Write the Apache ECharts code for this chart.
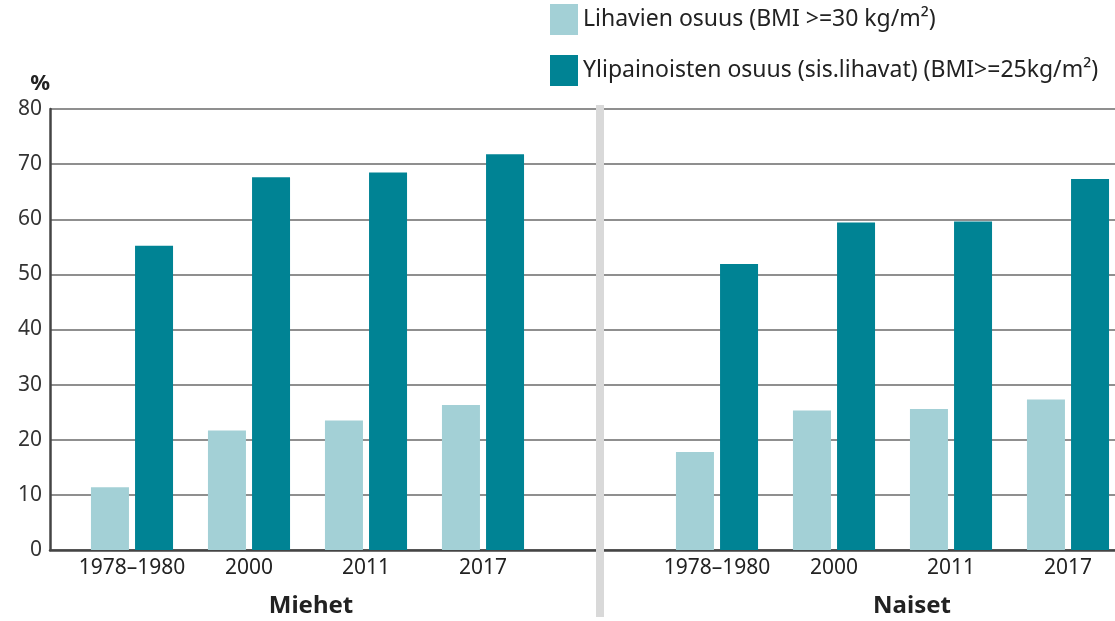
<!DOCTYPE html>
<html>
<head>
<meta charset="utf-8">
<script src="https://cdn.jsdelivr.net/npm/echarts@6/dist/echarts.min.js"></script>
<style>
  html, body { margin: 0; padding: 0; background: #fff; }
  #chart { width: 1115px; height: 621px; }
</style>
</head>
<body>
<div id="chart"></div>
<script>
// categories: Miehet (4), empty gap, Naiset (4)
var categories = ['1978–1980', '2000', '2011', '2017', '', '1978–1980', '2000', '2011', '2017'];
var lihavat = [11.4, 21.7, 23.5, 26.3, null, 17.8, 25.3, 25.6, 27.3];
var ylipainoiset = [55.2, 67.6, 68.5, 71.8, null, 51.9, 59.4, 59.6, 67.3];
var yTicks = [0, 80, 10];
var groupNames = ['Miehet', 'Naiset'];
var seriesNames = ['Lihavien osuus (BMI >=30 kg/m²)', 'Ylipainoisten osuus (sis.lihavat) (BMI>=25kg/m²)'];

var font = '"Noto Sans", "Open Sans", sans-serif';
var chart = echarts.init(document.getElementById('chart'));

var option = {
    animation: false,
    textStyle: { fontFamily: font },
    legend: {
        orient: 'vertical',
        left: 550,
        top: 4,
        padding: 0,
        itemWidth: 28,
        itemHeight: 31,
        itemGap: 20,
        icon: 'rect',
        textStyle: { fontSize: 23, color: '#222', fontFamily: font },
        data: seriesNames
    },
    grid: [
        // frame grid: y axis and grid lines
        { left: 50, right: 0, top: 109, bottom: 71 },
        // bar grid: category points 117px apart, first at x=132
        { left: 132, width: 936, top: 109, bottom: 71 }
    ],
    xAxis: [{
        gridIndex: 0,
        type: 'value',
        min: 0,
        max: 1,
        axisLabel: { show: false },
        axisTick: { show: false },
        splitLine: { show: false },
        axisLine: { show: true, onZero: false, lineStyle: { color: '#444', width: 2.5 } }
    }, {
        gridIndex: 1,
        type: 'category',
        data: categories,
        boundaryGap: false,
        axisLine: { show: false },
        axisTick: { show: false },
        axisLabel: { fontSize: 21, color: '#222', margin: 8, fontFamily: font, interval: 0 }
    }],
    yAxis: [{
        gridIndex: 0,
        type: 'value',
        min: yTicks[0],
        max: yTicks[1],
        interval: yTicks[2],
        name: '%',
        nameLocation: 'end',
        nameGap: 14,
        nameTextStyle: { fontSize: 22, fontWeight: 'bold', color: '#222', align: 'right', fontFamily: font },
        axisLine: { show: true, lineStyle: { color: '#444', width: 2.5 } },
        axisTick: { show: false },
        axisLabel: { fontSize: 21, color: '#333', margin: 8, fontFamily: font },
        splitLine: { lineStyle: { color: '#6a6a6a', width: 1.6 } }
    }, {
        gridIndex: 1,
        type: 'value',
        min: yTicks[0],
        max: yTicks[1],
        show: false,
        splitLine: { show: false }
    }],
    series: [{
        name: seriesNames[0],
        type: 'bar',
        xAxisIndex: 1,
        yAxisIndex: 1,
        barWidth: 38,
        barGap: '16%',
        itemStyle: { color: '#a3d0d6' },
        data: lihavat
    }, {
        name: seriesNames[1],
        type: 'bar',
        xAxisIndex: 1,
        yAxisIndex: 1,
        barWidth: 38,
        barGap: '16%',
        itemStyle: { color: '#008394' },
        data: ylipainoiset
    }]
};
chart.setOption(option);

// separator at the empty category, group titles under each panel
var sepX = chart.convertToPixel({ xAxisIndex: 1 }, 4);
chart.setOption({
    graphic: [{
        type: 'rect',
        shape: { x: sepX - 4, y: 105, width: 8, height: 512 },
        style: { fill: '#d9d9d9' },
        z: 100
    }, {
        type: 'text',
        x: 311,
        y: 606,
        style: { text: groupNames[0], fontSize: 24, fontWeight: 'bold', fill: '#222', fontFamily: font, textAlign: 'center', textVerticalAlign: 'middle' }
    }, {
        type: 'text',
        x: 912,
        y: 606,
        style: { text: groupNames[1], fontSize: 24, fontWeight: 'bold', fill: '#222', fontFamily: font, textAlign: 'center', textVerticalAlign: 'middle' }
    }]
});
</script>
</body>
</html>
